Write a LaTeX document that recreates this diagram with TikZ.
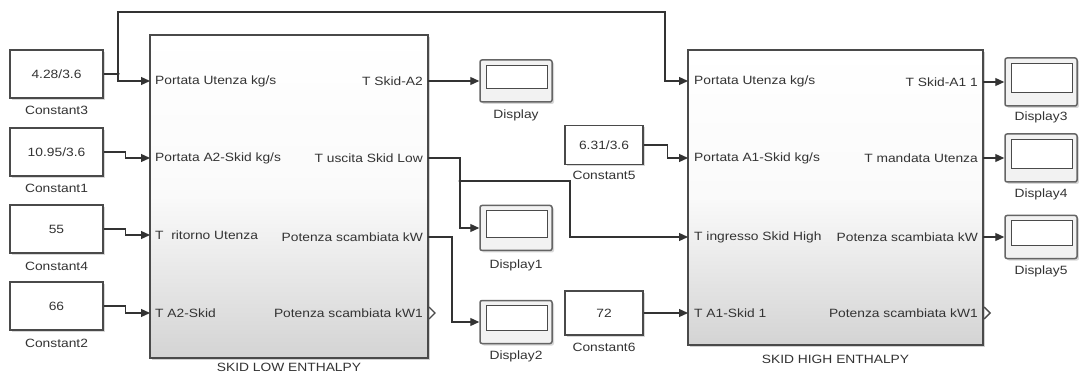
\documentclass[tikz,border=0pt]{standalone}
\usepackage{fontspec}
\setmainfont{Liberation Sans}[FakeStretch=1.15]
\usetikzlibrary{arrows.meta,shadows,calc}
\definecolor{ink}{HTML}{333333}
\definecolor{edge}{HTML}{4A4A4A}
\begin{document}
\begin{tikzpicture}[x=1pt,y=-1pt,
  font=\fontsize{12}{14}\selectfont, text=ink,
  blk/.style={draw=edge, line width=1.6pt, top color=white, bottom color=black!17, middle color=black!2,
    drop shadow={shadow xshift=2pt,shadow yshift=-2pt,opacity=0.35}, inner sep=0pt},
  cst/.style={draw=edge, line width=1.2pt, fill=white, inner sep=0pt,
    drop shadow={shadow xshift=2pt,shadow yshift=-2pt,opacity=0.3}},
  disp/.style={draw=edge!85, line width=1.5pt, fill=black!5, rounded corners=2pt, inner sep=0pt,
    minimum width=72pt, drop shadow={shadow xshift=2pt,shadow yshift=-2pt,opacity=0.3}},
  dispin/.style={draw=edge, line width=0.9pt, fill=white},
  wire/.style={draw=ink, line width=1.2pt, -{Triangle[length=9pt,width=8pt]}},
  wirep/.style={draw=ink, line width=1.2pt},
  inl/.style={anchor=west, inner sep=0pt},
  outl/.style={anchor=east, inner sep=0pt},
  lbl/.style={inner sep=0pt},
  dot/.style={circle, fill=ink, inner sep=0pt, minimum size=3.5pt},
  chev/.style={draw=edge, line width=1.4pt}
]
\useasboundingbox[fill=white] (0,0) rectangle (1079,374);

% ---------- main blocks ----------
\node[blk, minimum width=278pt, minimum height=323pt] (low) at (289,196.5) {};
\node[blk, minimum width=295pt, minimum height=295pt] (high) at (835.5,197.5) {};
\node[lbl] (lowt) at (289,367) {SKID LOW ENTHALPY};
\node[lbl] (hight) at (835.5,359) {SKID HIGH ENTHALPY};

% ports
\coordinate (L-in1) at (150,81);  \coordinate (L-in2) at (150,158);
\coordinate (L-in3) at (150,235); \coordinate (L-in4) at (150,313);
\coordinate (L-out1) at (428,81); \coordinate (L-out2) at (428,158);
\coordinate (L-out3) at (428,237); \coordinate (L-out4) at (428,313);
\coordinate (H-in1) at (688,81);  \coordinate (H-in2) at (688,158);
\coordinate (H-in3) at (688,237); \coordinate (H-in4) at (688,313);
\coordinate (H-out1) at (983,82); \coordinate (H-out2) at (983,158);
\coordinate (H-out3) at (983,237); \coordinate (H-out4) at (983,313);

% port labels LOW
\node[inl] (li1) at (155,81) {Portata Utenza kg/s};
\node[inl] (li2) at (155,158) {Portata A2-Skid kg/s};
\node[inl] (li3) at (155,235) {T\ \ ritorno Utenza};
\node[inl] (li4) at (155,313) {T A2-Skid};
\node[outl] (lo1) at (423,81) {T Skid-A2};
\node[outl] (lo2) at (423,158) {T uscita Skid Low};
\node[outl] (lo3) at (423,237) {Potenza scambiata kW};
\node[outl] (lo4) at (423,313) {Potenza scambiata kW1};
% port labels HIGH
\node[inl] (hi1) at (694,81) {Portata Utenza kg/s};
\node[inl] (hi2) at (694,158) {Portata A1-Skid kg/s};
\node[inl] (hi3) at (694,237) {T ingresso Skid High};
\node[inl] (hi4) at (694,313) {T A1-Skid 1};
\node[outl] (ho1) at (978,82) {T Skid-A1 1};
\node[outl] (ho2) at (978,158) {T mandata Utenza};
\node[outl] (ho3) at (978,237) {Potenza scambiata kW};
\node[outl] (ho4) at (978,313) {Potenza scambiata kW1};

% output port chevrons
\draw[chev] (L-out4) ++(1,-6) -- ++(6,6) -- ++(-6,6);
\draw[chev] (H-out4) ++(1,-6) -- ++(6,6) -- ++(-6,6);

% ---------- constants ----------
\node[cst, minimum width=93pt, minimum height=48pt] (c3) at (56.5,74) {4.28/3.6};
\node[cst, minimum width=93pt, minimum height=48pt] (c1) at (56.5,152) {10.95/3.6};
\node[cst, minimum width=93pt, minimum height=48pt] (c4) at (56.5,229) {55};
\node[cst, minimum width=93pt, minimum height=48pt] (c2) at (56.5,306) {66};
\node[cst, minimum width=78pt, minimum height=39pt] (c5) at (604,145) {6.31/3.6};
\node[cst, minimum width=78pt, minimum height=44pt] (c6) at (604,313) {72};
\node[lbl] (c3l) at ($(c3.south)+(0,12)$) {Constant3};
\node[lbl] (c1l) at ($(c1.south)+(0,12)$) {Constant1};
\node[lbl] (c4l) at ($(c4.south)+(0,13)$) {Constant4};
\node[lbl] (c2l) at ($(c2.south)+(0,13)$) {Constant2};
\node[lbl] (c5l) at ($(c5.south)+(0,10)$) {Constant5};
\node[lbl] (c6l) at ($(c6.south)+(0,12)$) {Constant6};

% ---------- displays ----------
\node[disp, minimum height=42pt] (d0) at (516,81) {};
\node[disp, minimum height=45pt] (d1) at (516,228) {};
\node[disp, minimum height=43pt] (d2) at (516,322) {};
\node[disp, minimum height=48pt] (d3) at (1041,82) {};
\node[disp, minimum height=48pt] (d4) at (1041,158) {};
\node[disp, minimum height=43pt] (d5) at (1041,237) {};
\foreach \d in {d0,d1,d2,d3,d4,d5}{
  \draw[dispin] ($(\d.north west)+(7,6)$) rectangle ($(\d.south east)+(-5,-14)$);
}
\node[lbl] (d0l) at ($(d0.south)+(0,13)$) {Display};
\node[lbl] (d1l) at ($(d1.south)+(0,14)$) {Display1};
\node[lbl] (d2l) at ($(d2.south)+(0,12)$) {Display2};
\node[lbl] (d3l) at ($(d3.south)+(0,11)$) {Display3};
\node[lbl] (d4l) at ($(d4.south)+(0,12)$) {Display4};
\node[lbl] (d5l) at ($(d5.south)+(0,12)$) {Display5};

% ---------- wires ----------
\coordinate (j1) at (118,74);
\coordinate (tA) at (118,12);
\coordinate (tB) at (665,12);
\draw[wire] (c3.east) -- (j1) |- (L-in1);
\draw[wire] (j1) -- (tA) -- (tB) |- (H-in1);
\node[dot] (j1d) at (j1) {};

\draw[wire] (c1.east) -- ++(22,0) |- (L-in2);
\draw[wire] (c4.east) -- ++(22,0) |- (L-in3);
\draw[wire] (c2.east) -- ++(22,0) |- (L-in4);

\draw[wire] (L-out1) -- (d0.west);
\coordinate (j2) at (460,181);
\coordinate (k1) at (570,181);
\draw[wirep] (L-out2) -| (j2);
\draw[wire] (j2) |- (d1.west);
\draw[wire] (j2) -- (k1) |- (H-in3);
\node[dot] (j2d) at (j2) {};
\draw[wire] (L-out3) -- ++(24,0) |- (d2.west);

\draw[wire] (c5.east) -- ++(24,0) |- (H-in2);
\draw[wire] (c6.east) -- (H-in4);

\draw[wire] (H-out1) -- (d3.west);
\draw[wire] (H-out2) -- (d4.west);
\draw[wire] (H-out3) -- (d5.west);
\end{tikzpicture}
\end{document}
